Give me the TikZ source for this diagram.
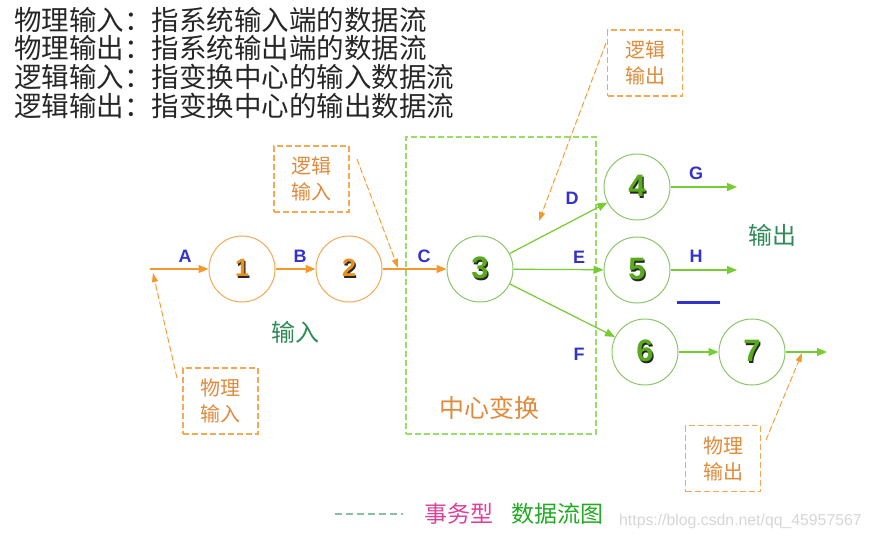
\documentclass[tikz,border=0pt]{standalone}
\usepackage{fontspec}
\setmainfont{Liberation Sans}
\newfontfamily\cjk{Noto Sans CJK SC}
\usetikzlibrary{arrows.meta}
\definecolor{orangeC}{HTML}{F5A955}
\definecolor{orangeA}{HTML}{F39A2E}
\definecolor{orangeT}{HTML}{E08A3C}
\definecolor{orangeD}{HTML}{E8901E}
\definecolor{greenC}{HTML}{8CC66A}
\definecolor{greenA}{HTML}{77CC33}
\definecolor{greenD}{HTML}{5AAA1E}
\definecolor{blueL}{HTML}{3333CC}
\definecolor{darkG}{HTML}{2E8B57}
\definecolor{boxG}{HTML}{99DD66}
\definecolor{pinkT}{HTML}{E0409A}
\definecolor{greenT}{HTML}{22AA22}
\definecolor{legD}{HTML}{88C0A0}
\definecolor{wmark}{HTML}{D6D6D6}
\newcommand\shdig[2]{\leavevmode\makebox[0pt]{\kern2.5pt\raisebox{-1.5pt}{\textcolor{black!85}{#2}}}\makebox[0pt]{\textcolor{#1}{#2}}}
\begin{document}
\begin{tikzpicture}[x=1pt,y=-1pt,
  circ/.style={circle, draw, line width=1pt, minimum size=66pt, inner sep=0pt},
  ocirc/.style={circ, draw=orangeC, font=\bfseries\fontsize{25}{25}\selectfont},
  gcirc/.style={circ, draw=greenC, font=\bfseries\fontsize{31}{31}\selectfont},
  oarrow/.style={draw=orangeA, line width=1.2pt, -{Triangle[length=10pt,width=8pt]}, fill=orangeA},
  garrow/.style={draw=greenA, line width=1.2pt, -{Triangle[length=10pt,width=8pt]}, fill=greenA},
  lab/.style={text=blueL, font=\bfseries\fontsize{18}{18}\selectfont, inner sep=0pt},
  callout/.style={draw=orangeC, dash pattern=on 6pt off 3pt, line width=1.2pt, text=orangeT, align=center,
    minimum width=75pt, minimum height=66pt, inner sep=0pt, font=\cjk\fontsize{20}{26}\selectfont},
  carrow/.style={draw=orangeA, line width=0.9pt, dash pattern=on 6pt off 3pt, -{Triangle[length=9pt,width=6pt]}, fill=orangeA},
  topline/.style={anchor=west, inner sep=0pt, text=black!85, font=\cjk\fontsize{27.5}{29}\selectfont}
]
\useasboundingbox (0,0) rectangle (873,540);
% top explanations
\node[topline] (t1) at (14,20) {物理输入：指系统输入端的数据流};
\node[topline] (t2) at (14,48) {物理输出：指系统输出端的数据流};
\node[topline] (t3) at (14,77) {逻辑输入：指变换中心的输入数据流};
\node[topline] (t4) at (14,106) {逻辑输出：指变换中心的输出数据流};
% central transform box
\node[draw=boxG, dash pattern=on 6pt off 3pt, line width=1.2pt, minimum width=190pt, minimum height=297pt, inner sep=0pt] (box) at (501,285.5) {};
\node[text=orangeT, font=\cjk\fontsize{25}{25}\selectfont, inner sep=0pt] (cz) at (489,408) {中心变换};
% bubbles
\node[ocirc] (n1) at (242,269) {\shdig{orangeD}{1}};
\node[ocirc] (n2) at (349,269) {\shdig{orangeD}{2}};
\node[gcirc] (n3) at (480,269) {\shdig{greenD}{3}};
\node[gcirc] (n4) at (637,187) {\shdig{greenD}{4}};
\node[gcirc] (n5) at (637,270) {\shdig{greenD}{5}};
\node[gcirc] (n6) at (645,352) {\shdig{greenD}{6}};
\node[gcirc] (n7) at (752,352) {\shdig{greenD}{7}};
% free ends
\coordinate (in) at (150,269);
\coordinate (g) at (737,187);
\coordinate (h) at (737,270);
\coordinate (out) at (827,352);
% flows
\draw[oarrow] (in) -- (n1);
\draw[oarrow] (n1) -- (n2);
\draw[oarrow] (n2) -- (n3);
\draw[garrow] (n3) -- (n4);
\draw[garrow] (n3) -- (n5);
\draw[garrow] (n3) -- (n6);
\draw[garrow] (n4) -- (g);
\draw[garrow] (n5) -- (h);
\draw[garrow] (n6) -- (n7);
\draw[garrow] (n7) -- (out);
% labels
\node[lab] (la) at (185,256) {A};
\node[lab] (lb) at (300,256) {B};
\node[lab] (lc) at (424,256) {C};
\node[lab] (ld) at (572,198) {D};
\node[lab] (le) at (579,257) {E};
\node[lab] (lf) at (579,354) {F};
\node[lab] (lg) at (696,173) {G};
\node[lab] (lh) at (696,256) {H};
\coordinate (u1) at (677,302);
\coordinate (u2) at (720,302);
\draw[blueL, line width=3pt] (u1) -- (u2);
\node[text=darkG, font=\cjk\fontsize{24}{24}\selectfont, inner sep=0pt] (tin) at (295,332) {输入};
\node[text=darkG, font=\cjk\fontsize{24}{24}\selectfont, inner sep=0pt] (tout) at (772,235) {输出};
% callouts
\node[callout] (cli) at (311.5,179) {逻辑\\输入};
\node[callout] (clo) at (645,63) {逻辑\\输出};
\node[callout] (cpi) at (220.5,401) {物理\\输入};
\node[callout] (cpo) at (723,458.5) {物理\\输出};
\coordinate (a1s) at (357,159); \coordinate (a1e) at (398,268);
\coordinate (a2s) at (606,43);  \coordinate (a2e) at (539,221);
\coordinate (a3s) at (177,378); \coordinate (a3e) at (153,273);
\coordinate (a4s) at (766,440); \coordinate (a4e) at (802,353);
\draw[carrow] (a1s) -- (a1e);
\draw[carrow] (a2s) -- (a2e);
\draw[carrow] (a3s) -- (a3e);
\draw[carrow] (a4s) -- (a4e);
% legend
\coordinate (l1) at (335,514);
\coordinate (l2) at (403,514);
\draw[legD, line width=2pt, dash pattern=on 7pt off 4pt] (l1) -- (l2);
\node[anchor=west, inner sep=0pt, text=pinkT, font=\cjk\fontsize{23}{23}\selectfont] (leg1) at (424,514) {事务型};
\node[anchor=west, inner sep=0pt, text=greenT, font=\cjk\fontsize{23}{23}\selectfont] (leg2) at (511,514) {数据流图};
\node[anchor=west, inner sep=0pt, text=wmark, font=\fontsize{15.8}{15.8}\selectfont] (wm) at (619,521) {https://blog.csdn.net/qq\_45957567};
\end{tikzpicture}
\end{document}
